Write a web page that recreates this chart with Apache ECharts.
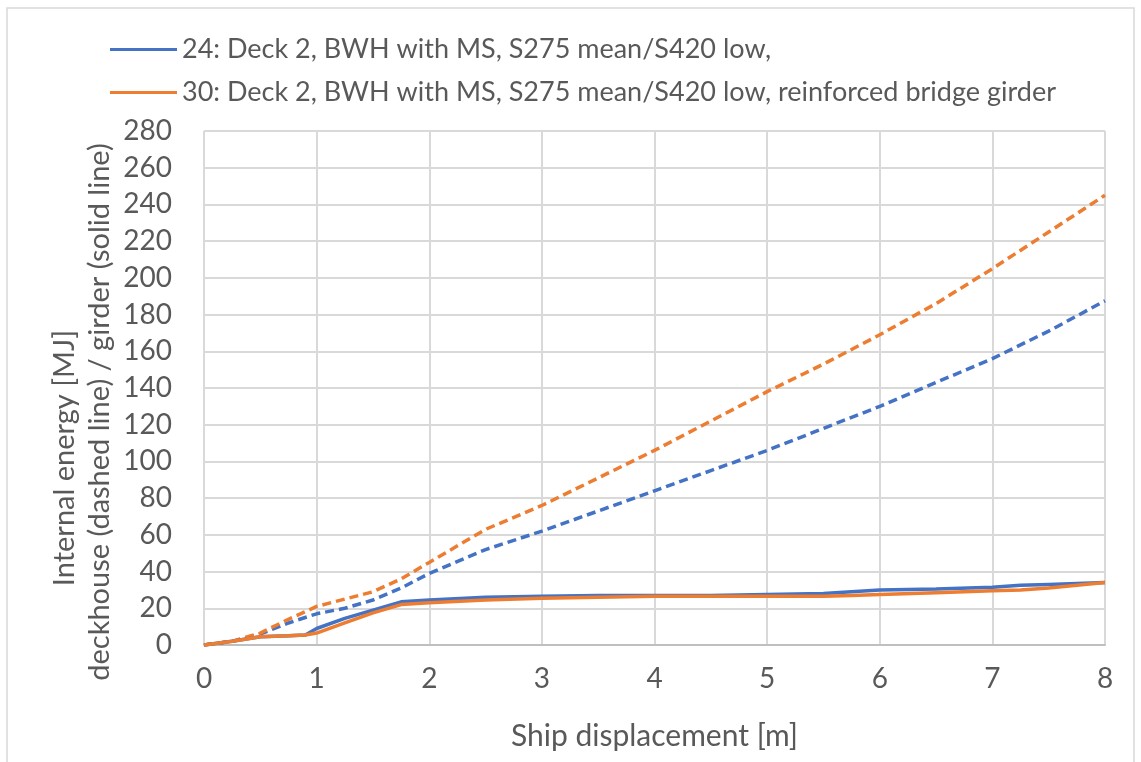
<!DOCTYPE html>
<html>
<head>
<meta charset="utf-8">
<script src="https://cdn.jsdelivr.net/npm/echarts@6/dist/echarts.min.js"></script>
<style>
html,body{margin:0;padding:0;background:#fff;}
#c{width:1141px;height:762px;}
</style>
</head>
<body>
<div id="c"></div>
<script>
const seriesNames = [
  '24: Deck 2, BWH with MS, S275 mean/S420 low,',
  '30: Deck 2, BWH with MS, S275 mean/S420 low, reinforced bridge girder'
];
const xTicks = [0, 1, 2, 3, 4, 5, 6, 7, 8];
const yTicks = [0, 20, 40, 60, 80, 100, 120, 140, 160, 180, 200, 220, 240, 260, 280];

// dashed lines: deckhouse energy
const dashX      = [0, 0.25, 0.5, 0.75, 1, 1.25, 1.5, 1.75, 2, 2.5, 3, 3.5, 4, 4.5, 5, 5.5, 6, 6.5, 7, 7.5, 8];
const deck24     = [0, 2, 6, 12, 17, 20, 24.5, 31, 39, 52, 62, 73, 84, 95, 106, 118, 130, 143, 156, 171, 187.5];
const deck30     = [0, 2, 6.5, 14, 21, 25, 29, 36, 45, 63, 76, 91, 106, 122, 138, 153, 169, 186, 205, 225, 245];

// solid lines: girder energy
const solidX     = [0, 0.25, 0.5, 0.75, 0.9, 1, 1.25, 1.5, 1.75, 2, 2.5, 3, 3.5, 4, 4.5, 5, 5.5, 5.75, 6, 6.5, 7, 7.25, 7.5, 8];
const girder24   = [0, 2, 4.5, 5, 5.5, 9, 14.5, 19, 23.5, 24.5, 26, 26.5, 27, 27, 27, 27.5, 28, 29, 30, 30.5, 31.5, 32.5, 33, 34];
const girder30   = [0, 2, 4.5, 5, 5.5, 6.5, 12, 17.5, 22, 23, 24.5, 25.5, 26, 26.5, 26.5, 26.5, 26.5, 27, 27.5, 28.5, 29.5, 30, 31, 34];

const blue = '#4472C4';
const orange = '#ED7D31';
const txt = '#595959';
const font = 'Lato';

function pairs(xs, ys) { return xs.map((x, i) => [x, ys[i]]); }

const chart = echarts.init(document.getElementById('c'), null, {renderer: 'canvas'});
chart.setOption({
  animation: false,
  backgroundColor: '#fff',
  textStyle: {fontFamily: font, color: txt},
  grid: {left: 204, right: 36, top: 131, bottom: 117, containLabel: false},
  legend: {
    data: seriesNames,
    orient: 'vertical',
    left: 105,
    top: 31,
    itemWidth: 67,
    itemHeight: 3,
    itemGap: 16,
    icon: 'rect',
    textStyle: {fontFamily: font, fontSize: 27, color: txt}
  },
  xAxis: {
    type: 'value',
    min: 0, max: 8, interval: 1,
    name: 'Ship displacement [m]',
    nameLocation: 'middle',
    nameGap: 76,
    nameTextStyle: {fontFamily: font, fontSize: 30, color: txt},
    axisLine: {show: true, lineStyle: {color: '#bfbfbf', width: 2}},
    axisTick: {show: false},
    axisLabel: {fontFamily: font, fontSize: 28, color: txt, margin: 20,
      formatter: v => xTicks.includes(v) ? String(v) : ''},
    splitLine: {show: true, lineStyle: {color: '#d9d9d9', width: 2}}
  },
  yAxis: {
    type: 'value',
    min: 0, max: 280, interval: 20,
    axisLine: {show: false},
    axisTick: {show: false},
    axisLabel: {fontFamily: font, fontSize: 28, color: txt, margin: 32,
      formatter: v => yTicks.includes(v) ? String(v) : ''},
    splitLine: {show: true, lineStyle: {color: '#d9d9d9', width: 2}}
  },
  graphic: [
    {type: 'rect', shape: {x: 7, y: 8, width: 1127, height: 770}, style: {fill: 'none', stroke: '#d9d9d9', lineWidth: 1.5}, silent: true},
    {type: 'text', x: 65, y: 458, rotation: Math.PI / 2,
      style: {text: 'Internal energy [MJ]', font: '29px Lato', fill: txt, align: 'center', verticalAlign: 'middle'}},
    {type: 'text', x: 100, y: 412, rotation: Math.PI / 2,
      style: {text: 'deckhouse (dashed line) / girder (solid line)', font: '29px Lato', fill: txt, align: 'center', verticalAlign: 'middle'}}
  ],
  series: [
    {name: seriesNames[0], type: 'line', data: pairs(solidX, girder24), showSymbol: false, smooth: false,
      lineStyle: {color: blue, width: 3.5}, itemStyle: {color: blue}, z: 4},
    {name: seriesNames[1], type: 'line', data: pairs(solidX, girder30), showSymbol: false, smooth: false,
      lineStyle: {color: orange, width: 3.5}, itemStyle: {color: orange}, z: 5},
    {name: 'deck24', type: 'line', data: pairs(dashX, deck24), showSymbol: false, smooth: false,
      lineStyle: {color: blue, width: 3.5, type: [9, 5]}, itemStyle: {color: blue}, z: 3},
    {name: 'deck30', type: 'line', data: pairs(dashX, deck30), showSymbol: false, smooth: false,
      lineStyle: {color: orange, width: 3.5, type: [9, 5]}, itemStyle: {color: orange}, z: 3}
  ]
});
</script>
</body>
</html>
